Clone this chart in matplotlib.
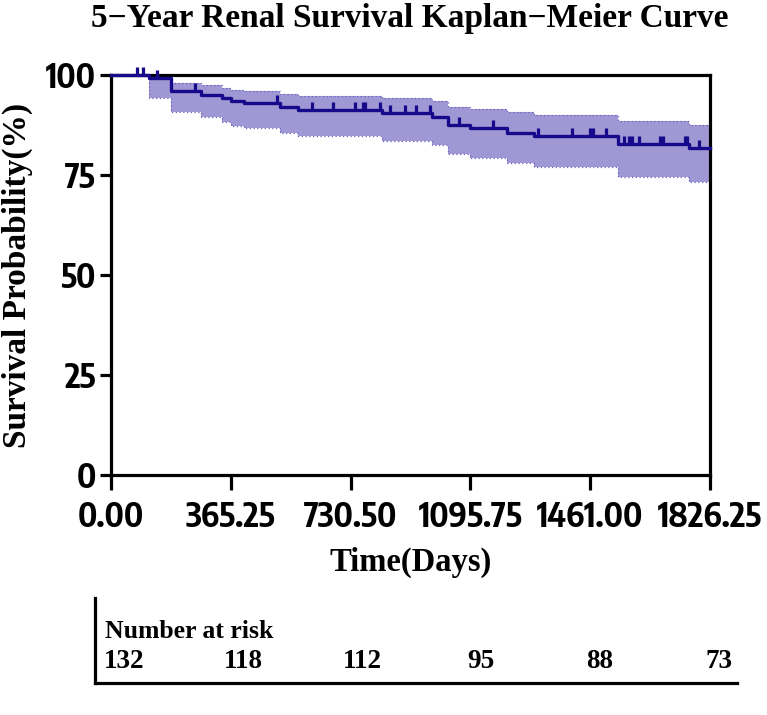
import numpy as np
import matplotlib
matplotlib.use("Agg")
import matplotlib.pyplot as plt
from matplotlib import font_manager

# ---------------- data ----------------
event_days = [0, 116, 183, 274, 337, 366, 406, 515, 570, 825, 978, 1028, 1095, 1207, 1290, 1545, 1762]
survival   = [100, 99.2, 96.0, 95.1, 94.2, 93.6, 92.9, 91.9, 91.2, 90.4, 89.4, 87.6, 86.7, 85.6, 84.8, 82.8, 81.8]
ci_upper   = [100, 100.0, 97.9, 97.5, 96.7, 96.3, 96.0, 95.25, 94.75, 94.2, 93.6, 92.1, 91.5, 90.8, 90.0, 88.5, 87.5]
ci_lower   = [100, 94.3, 90.7, 89.6, 88.3, 87.2, 86.8, 85.6, 84.75, 83.5, 82.5, 80.25, 79.2, 78.1, 77.1, 74.6, 73.2]
censor_days = [79, 98, 140, 256, 505, 613, 676, 744, 768, 774, 820, 851, 896, 930, 973, 1061, 1165,
               1302, 1405, 1460, 1470, 1508, 1564, 1579, 1589, 1610, 1674, 1683, 1750, 1756, 1793]
end_day = 1826.25
x_ticks = [0.00, 365.25, 730.50, 1095.75, 1461.00, 1826.25]
x_tick_labels = ["0.00", "365.25", "730.50", "1095.75", "1461.00", "1826.25"]
y_ticks = [0, 25, 50, 75, 100]
risk_days = [0.00, 365.25, 730.50, 1095.75, 1461.00, 1826.25]
risk_counts = [132, 118, 112, 95, 88, 73]

# ---------------- fonts ----------------
tick_font = "Liberation Sans"
tick_stretch = "normal"
tick_size = 21
narrow = None
for f in font_manager.fontManager.ttflist:
    nm = f.name.lower()
    if ("narrow" in nm or "condensed" in nm) and "sans" in nm:
        narrow = (f.name, "normal")
        break
    if f.name == "DejaVu Sans" and f.stretch in ("condensed", "semi-condensed", 600, 500) and f.weight in ("bold", 700):
        narrow = ("DejaVu Sans", "condensed")
if narrow is not None:
    tick_font, tick_stretch = narrow
    tick_size = 24
serif_font = "Liberation Serif"

line_color = "#17098b"
fill_color = "#9f98d4"
edge_color = "#6b62c4"

fig = plt.figure(figsize=(7.67, 7.15), dpi=100)
ax = fig.add_axes([111/767, 1-475/715, (710-111)/767, 400/715])

t = np.array(event_days + [end_day], dtype=float)
s = np.array(survival + [survival[-1]], dtype=float)
up = np.array(ci_upper + [ci_upper[-1]], dtype=float)
lo = np.array(ci_lower + [ci_lower[-1]], dtype=float)

ax.fill_between(t, lo, up, step="post", color=fill_color, lw=0, zorder=1)
ax.step(t, up, where="post", color=edge_color, lw=0.9, ls=(0, (1, 2)), zorder=2)
ax.step(t, lo, where="post", color=edge_color, lw=0.9, ls=(0, (1, 2)), zorder=2)
ax.step(t, s, where="post", color=line_color, lw=2.4, zorder=5, clip_on=False)

cd = np.array(censor_days, dtype=float)
idx = np.searchsorted(np.array(event_days, dtype=float), cd, side="right") - 1
cs = np.array(survival)[idx]
ax.vlines(cd, cs, cs + 2.0, color=line_color, lw=2.3, zorder=6, clip_on=False)

ax.set_xlim(0, end_day)
ax.set_ylim(0, 100)
ax.set_xticks(x_ticks)
ax.set_xticklabels(x_tick_labels)
ax.set_yticks(y_ticks)
ax.set_yticklabels([str(v) for v in y_ticks])

for sp in ax.spines.values():
    sp.set_linewidth(2.3)
    sp.set_color("black")
ax.tick_params(axis="x", direction="out", length=11, width=2.3, pad=7)
ax.tick_params(axis="y", direction="out", length=8, width=2.3, pad=3)
for lab in ax.get_xticklabels() + ax.get_yticklabels():
    lab.set_fontfamily(tick_font)
    lab.set_fontstretch(tick_stretch)
    lab.set_fontweight("bold")
    lab.set_fontsize(tick_size)

ax.set_xlabel("Time(Days)", fontfamily=serif_font, fontweight="bold", fontsize=23.5)
ax.xaxis.set_label_coords(0.5, (475-547)/400)
ax.xaxis.label.set_va("top")
ax.set_ylabel("Survival Probability(%)", fontfamily=serif_font, fontweight="bold", fontsize=24)
ax.yaxis.set_label_coords((33-111)/599, 0.5)
fig.text(410/767, 1-19/715, "5\u2212Year Renal Survival Kaplan\u2212Meier Curve",
         ha="center", va="center", fontfamily=serif_font, fontweight="bold", fontsize=24)

# ---------------- number at risk table ----------------
tx = fig.add_axes([95/767, 1-683/715, (737-95)/767, 85/715])
tx.set_xlim(-89, 1882)
tx.set_ylim(0, 1)
tx.spines["top"].set_visible(False)
tx.spines["right"].set_visible(False)
tx.spines["left"].set_linewidth(2.3)
tx.spines["bottom"].set_linewidth(2.3)
tx.set_xticks([])
tx.set_yticks([])
tx.patch.set_alpha(0)
tx.text(10/642, 0.6, "Number at risk", transform=tx.transAxes, ha="left", va="center",
        fontfamily=serif_font, fontweight="bold", fontsize=18.5)
for d, n in zip(risk_days, risk_counts):
    tx.text(d, 0.25, str(n), ha="center", va="center",
            fontfamily=serif_font, fontweight="bold", fontsize=19.5)

fig.savefig("out.png", dpi=100)
